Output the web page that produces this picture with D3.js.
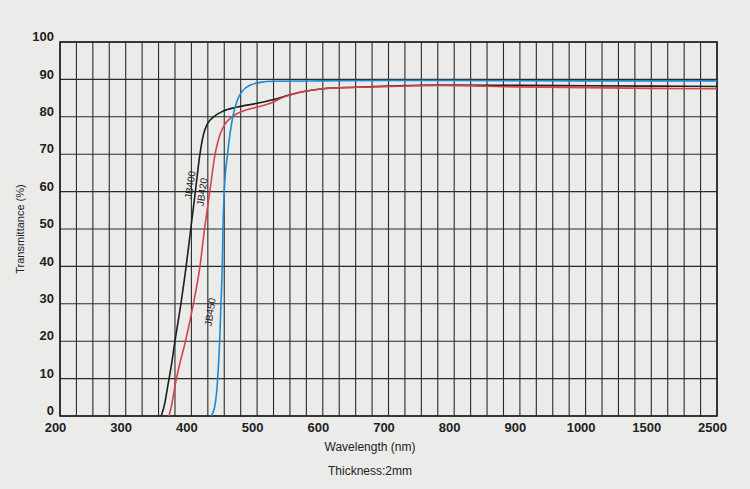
<!DOCTYPE html>
<html>
<head>
<meta charset="utf-8">
<script src="https://cdn.jsdelivr.net/npm/d3@7"></script>
<style>
  html, body { margin: 0; padding: 0; background: #ebebea; }
  svg { display: block; }
  text { font-family: "Liberation Sans", Arial, sans-serif; fill: #222; }
</style>
</head>
<body>
<svg id="chart" width="750" height="489"></svg>
<script>
// wavelength (nm) / transmittance (%)
var jb400 = [[354,0],[359,3],[364,8],[369,13],[375,20],[384,30],[392,40],[399,50],[406,60],[413,70],[418,75],[424,78],[434,80],[448,81.5],[470,82.6],[500,83.6],[525,84.6],[550,85.9],[575,86.9],[600,87.5],[650,87.9],[700,88.2],[775,88.5],[900,88.4],[1000,88.3],[1500,88.2],[2500,88.1]];
var jb420 = [[366,0],[370,3],[375,8],[381,13],[391,20],[403,30],[413,40],[420,50],[428,60],[436,70],[443,75],[451,78],[462,80],[478,81.5],[500,82.6],[520,83.6],[540,85.2],[570,86.7],[600,87.5],[650,87.9],[700,88.1],[775,88.4],[900,88],[1000,87.8],[1500,87.6],[2500,87.5]];
var jb450 = [[430,0],[436,3],[440,10],[443,20],[445,30],[447,40],[448,50],[450,60],[455,70],[463,80],[470,84.5],[478,87],[490,88.5],[505,89.2],[525,89.5],[600,89.6],[700,89.7],[800,89.7],[1000,89.6],[1500,89.6],[2500,89.6]];

var xTicks = [200,300,400,500,600,700,800,900,1000,1500,2500];
var yTicks = [0,10,20,30,40,50,60,70,80,90,100];
// broken axis: 25 nm cells up to 1000, then 125 nm, then 250 nm
var xGrid = d3.range(200, 1001, 25).concat([1125,1250,1375,1500,1750,2000,2250,2500]);

var series = [
	{name: "JB400", data: jb400, color: "#1e1e1e", lx: 190, ly: 185},
	{name: "JB420", data: jb420, color: "#d8424a", lx: 202, ly: 192},
	{name: "JB450", data: jb450, color: "#1b8ad6", lx: 210, ly: 312}
];

var L = 60, R = 717, T = 42, B = 416;
var u = (R - L) / 40;

var x = d3.scaleLinear()
	.domain([200, 1000, 1500, 2500])
	.range([L, L + 32*u, L + 36*u, R]);
var y = d3.scaleLinear().domain([0, 100]).range([B, T]);

var svg = d3.select("#chart");

// grid
var grid = svg.append("g").attr("stroke", "#2b2b2b").attr("stroke-width", 1.1);
grid.selectAll("line.v").data(xGrid).enter().append("line")
	.attr("class", "v")
	.attr("x1", function(d) { return x(d); }).attr("x2", function(d) { return x(d); })
	.attr("y1", T).attr("y2", B);
grid.selectAll("line.h").data(yTicks).enter().append("line")
	.attr("class", "h")
	.attr("x1", L).attr("x2", R)
	.attr("y1", function(d) { return y(d); }).attr("y2", function(d) { return y(d); });
svg.append("rect")
	.attr("x", L).attr("y", T).attr("width", R - L).attr("height", B - T)
	.attr("fill", "none").attr("stroke", "#222").attr("stroke-width", 1.6);

// axes (labels only, the grid carries the lines)
var xAxis = svg.append("g")
	.attr("transform", "translate(0," + B + ")")
	.call(d3.axisBottom(x).tickValues(xTicks).tickSize(0).tickPadding(7).tickFormat(d3.format("d")));
xAxis.select(".domain").remove();
xAxis.selectAll("text").attr("font-size", 13).attr("font-weight", "bold").attr("dx", -5).attr("fill", "#2a2a2a");

var yAxis = svg.append("g")
	.attr("transform", "translate(" + L + ",0)")
	.call(d3.axisLeft(y).tickValues(yTicks).tickSize(0).tickPadding(6));
yAxis.select(".domain").remove();
yAxis.selectAll("text").attr("font-size", 13).attr("font-weight", "bold").attr("dy", "-0.1em").attr("fill", "#2a2a2a");

// curves
var line = d3.line()
	.x(function(d) { return x(d[0]); })
	.y(function(d) { return y(d[1]); })
	.curve(d3.curveMonotoneX);

svg.selectAll("path.curve").data(series).enter().append("path")
	.attr("class", "curve")
	.attr("d", function(d) { return line(d.data); })
	.attr("fill", "none")
	.attr("stroke", function(d) { return d.color; })
	.attr("stroke-width", 1.6);

svg.selectAll("text.lab").data(series).enter().append("text")
	.attr("class", "lab")
	.attr("transform", function(d) { return "translate(" + d.lx + "," + d.ly + ") rotate(-82)"; })
	.attr("text-anchor", "middle")
	.attr("dy", "0.35em")
	.attr("font-size", 10)
	.text(function(d) { return d.name; });

// titles
svg.append("text")
	.attr("transform", "translate(24," + ((T + B) / 2) + ") rotate(-90)")
	.attr("text-anchor", "middle")
	.attr("font-size", 11)
	.text("Transmittance (%)");
svg.append("text")
	.attr("x", 370).attr("y", 451)
	.attr("text-anchor", "middle")
	.attr("font-size", 12)
	.text("Wavelength (nm)");
svg.append("text")
	.attr("x", 370).attr("y", 475)
	.attr("text-anchor", "middle")
	.attr("font-size", 12)
	.text("Thickness:2mm");
</script>
</body>
</html>
